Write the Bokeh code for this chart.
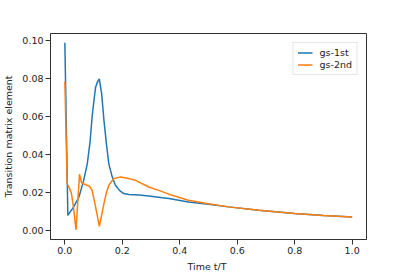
from bokeh.plotting import figure
from bokeh.models import FixedTicker, PrintfTickFormatter, Range1d, Legend, LegendItem
from bokeh.embed import file_html
from bokeh.resources import INLINE

# gs-1st (blue)
t1 = [0.0, 0.0104, 0.03, 0.049, 0.065, 0.078, 0.088, 0.095, 0.101, 0.107, 0.113, 0.12,
      0.128, 0.136, 0.145, 0.153, 0.165, 0.176, 0.19, 0.205, 0.223, 0.26, 0.292,
      0.362, 0.43, 0.5, 0.57, 0.675, 0.8, 0.9, 1.0]
gs1 = [0.0988, 0.0078, 0.0122, 0.0175, 0.026, 0.035, 0.047, 0.060, 0.068, 0.0754, 0.078, 0.0798,
       0.072, 0.058, 0.045, 0.035, 0.028, 0.0237, 0.021, 0.0193, 0.0188, 0.0185, 0.018,
       0.0167, 0.0149, 0.0137, 0.0123, 0.0105, 0.0088, 0.0078, 0.0070]

# gs-2nd (orange)
t2 = [0.0, 0.008, 0.015, 0.023, 0.03, 0.039, 0.051, 0.058, 0.065, 0.075, 0.085, 0.095,
      0.107, 0.12, 0.128, 0.136, 0.145, 0.153, 0.17, 0.194, 0.223, 0.246, 0.292,
      0.327, 0.362, 0.43, 0.5, 0.57, 0.675, 0.8, 0.9, 1.0]
gs2 = [0.0784, 0.0245, 0.0225, 0.0193, 0.012, 0.0002, 0.0295, 0.025, 0.0245, 0.0238, 0.0233, 0.021,
       0.0123, 0.0020, 0.008, 0.014, 0.020, 0.0237, 0.0272, 0.028, 0.0272, 0.0263, 0.0228,
       0.021, 0.019, 0.0158, 0.014, 0.0123, 0.0105, 0.0088, 0.0078, 0.0070]

x_ticks = [0.0, 0.2, 0.4, 0.6, 0.8, 1.0]
y_ticks = [0.0, 0.02, 0.04, 0.06, 0.08, 0.10]

FONT = "DejaVu Sans"
FS = "9.5px"

p = figure(output_backend="svg", toolbar_location=None,
           frame_width=316, frame_height=206,
           min_border_left=43, min_border_top=33, min_border_right=34, min_border_bottom=30,
           x_range=Range1d(-0.05, 1.05), y_range=Range1d(-0.0049, 0.1037))

p.background_fill_color = "white"
p.border_fill_color = "white"
p.outline_line_color = "#333333"
p.outline_line_width = 1
p.xgrid.visible = False
p.ygrid.visible = False

r1 = p.line(t1, gs1, line_color="#1f77b4", line_width=1.5)
r2 = p.line(t2, gs2, line_color="#ff7f0e", line_width=1.5)

for ax in (p.xaxis[0], p.yaxis[0]):
    ax.axis_line_color = "#333333"
    ax.major_tick_line_color = "#333333"
    ax.major_tick_out = 5
    ax.major_tick_in = 0
    ax.minor_tick_line_color = None
    ax.major_label_text_font = FONT
    ax.major_label_text_font_size = FS
    ax.major_label_text_color = "#222222"
    ax.axis_label_text_font = FONT
    ax.axis_label_text_font_size = FS
    ax.axis_label_text_font_style = "normal"
    ax.axis_label_text_color = "#222222"
    ax.major_label_standoff = 2

p.xaxis[0].ticker = FixedTicker(ticks=x_ticks)
p.xaxis[0].formatter = PrintfTickFormatter(format="%.1f")
p.xaxis[0].axis_label = "Time  t/T"
p.xaxis[0].axis_label_standoff = 4

p.yaxis[0].ticker = FixedTicker(ticks=y_ticks)
p.yaxis[0].formatter = PrintfTickFormatter(format="%.2f")
p.yaxis[0].axis_label = "Transition matrix element"
p.yaxis[0].axis_label_standoff = 5

legend = Legend(items=[LegendItem(label="gs-1st", renderers=[r1]),
                       LegendItem(label="gs-2nd", renderers=[r2])],
                location="top_right")
legend.margin = 9
legend.padding = 4
legend.spacing = 1
legend.label_height = 11
legend.glyph_height = 11
legend.glyph_width = 15
legend.label_standoff = 7
legend.label_text_font = FONT
legend.label_text_font_size = FS
legend.label_text_color = "#222222"
legend.border_line_color = "#cccccc"
legend.border_line_width = 1
legend.background_fill_alpha = 0.8
p.add_layout(legend)

open("out.html", "w").write(file_html(p, INLINE))
